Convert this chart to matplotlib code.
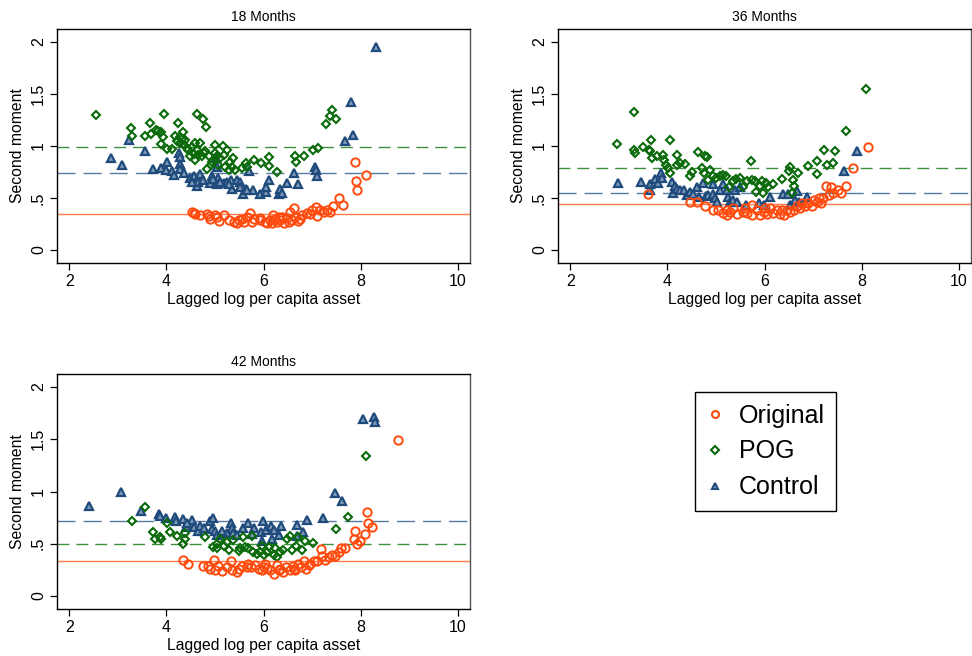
import matplotlib
matplotlib.use("Agg")
import matplotlib.pyplot as plt
from matplotlib.lines import Line2D

plt.rcParams['font.family'] = ['Liberation Sans', 'DejaVu Sans']
plt.rcParams['lines.scale_dashes'] = False

titles = ["18 Months", "36 Months", "42 Months"]
series_names = ["Original", "POG", "Control"]
xticks = [2, 4, 6, 8, 10]
yticks = [0, 0.5, 1, 1.5, 2]
ytick_labels = ["0", ".5", "1", "1.5", "2"]
x_label = "Lagged log per capita asset"
y_label = "Second moment"

# ---------------- 18 Months ----------------
p18_orig_x = [4.52, 4.56, 4.59, 4.69, 4.83, 4.87, 4.90, 5.00, 5.09, 5.18, 5.28, 5.40, 5.49, 5.55, 5.59, 5.66,
              5.73, 5.76, 5.81, 5.92, 6.03, 6.08, 6.13, 6.20, 6.24, 6.27, 6.34, 6.38, 6.43, 6.48, 6.55, 6.58,
              6.63, 6.65, 6.70, 6.76, 6.89, 6.96, 7.09, 7.10, 7.17, 7.24, 7.36, 7.43, 7.55, 7.64, 7.89, 7.90,
              7.92, 8.10, 5.93, 6.17, 6.31, 6.52, 6.79, 6.99, 7.31, 5.04, 5.45]
p18_orig_y = [0.37, 0.36, 0.35, 0.34, 0.35, 0.33, 0.30, 0.34, 0.28, 0.34, 0.29, 0.27, 0.29, 0.30, 0.27, 0.32,
              0.36, 0.27, 0.30, 0.29, 0.27, 0.26, 0.29, 0.34, 0.30, 0.27, 0.29, 0.32, 0.26, 0.31, 0.37, 0.29,
              0.40, 0.32, 0.28, 0.30, 0.36, 0.35, 0.41, 0.33, 0.38, 0.37, 0.37, 0.42, 0.50, 0.43, 0.85, 0.66,
              0.58, 0.72, 0.31, 0.26, 0.32, 0.27, 0.34, 0.38, 0.38, 0.32, 0.26]
p18_pog_x = [2.55, 3.27, 3.30, 3.57, 3.66, 3.68, 3.79, 3.82, 3.90, 3.95, 3.94, 3.90, 4.01, 4.11, 4.18, 4.25,
             4.21, 4.28, 4.35, 4.32, 4.36, 4.42, 4.49, 4.52, 4.59, 4.63, 4.64, 4.69, 4.75, 4.81, 4.73, 4.59,
             4.78, 4.83, 4.94, 5.00, 5.04, 5.07, 5.16, 5.18, 5.20, 5.24, 5.31, 5.38, 5.36, 5.41, 5.55, 5.64,
             5.67, 5.81, 5.95, 6.12, 6.12, 6.27, 6.65, 6.67, 6.84, 7.02, 7.12, 7.29, 7.36, 7.42, 7.50,
             4.28, 4.38, 4.45, 4.56, 4.66, 4.80, 4.87, 4.92, 5.00, 5.11, 5.30]
p18_pog_y = [1.30, 1.17, 1.10, 1.10, 1.22, 1.12, 1.15, 1.14, 1.13, 1.31, 1.09, 1.02, 0.97, 0.97, 1.10, 1.22,
             1.05, 1.03, 1.13, 1.07, 1.01, 0.98, 0.90, 0.99, 1.03, 1.31, 0.96, 1.03, 1.26, 1.18, 0.90, 0.87,
             0.93, 0.78, 0.85, 1.01, 0.90, 0.82, 1.00, 0.91, 0.80, 0.96, 0.85, 0.88, 0.80, 0.77, 0.79, 0.84,
             0.80, 0.87, 0.84, 0.89, 0.81, 0.75, 0.90, 0.85, 0.90, 0.96, 0.98, 1.21, 1.29, 1.35, 1.26,
             1.09, 1.06, 0.96, 0.92, 0.91, 0.95, 0.90, 0.82, 0.93, 0.88, 0.77]
p18_ctrl_x = [2.87, 3.08, 3.24, 3.56, 3.73, 3.89, 4.01, 4.00, 4.11, 4.15, 4.27, 4.28, 4.28, 4.28, 4.36, 4.49,
              4.56, 4.63, 4.66, 4.69, 4.90, 4.93, 5.02, 5.04, 5.07, 5.05, 5.18, 5.24, 5.33, 5.35, 5.45, 5.52,
              5.58, 5.64, 5.71, 5.79, 5.92, 6.06, 6.06, 6.12, 6.31, 6.34, 6.38, 6.49, 6.62, 6.72, 7.07, 7.09,
              7.11, 7.68, 7.81, 7.84, 8.32, 4.52, 4.76, 4.97, 5.11, 5.28, 5.52, 5.66]
p18_ctrl_y = [0.88, 0.82, 1.06, 0.95, 0.78, 0.79, 0.85, 0.77, 0.76, 0.72, 0.93, 0.89, 0.83, 0.78, 0.74, 0.69,
              0.71, 0.62, 0.65, 0.73, 0.64, 0.71, 0.88, 0.80, 0.69, 0.63, 0.64, 0.65, 0.67, 0.59, 0.67, 0.65,
              0.54, 0.59, 0.76, 0.58, 0.54, 0.56, 0.61, 0.67, 0.54, 0.59, 0.55, 0.64, 0.74, 0.63, 0.80, 0.77,
              0.71, 1.05, 1.42, 1.11, 1.95, 0.65, 0.67, 0.68, 0.65, 0.63, 0.61, 0.58]
p18_means = [0.343, 0.99, 0.743]

# ---------------- 36 Months ----------------
p36_orig_x = [3.61, 4.46, 4.62, 4.77, 4.93, 5.05, 5.15, 5.22, 5.29, 5.36, 5.55, 5.60, 5.74, 5.74, 5.84, 5.90,
              5.98, 6.05, 6.12, 6.18, 6.25, 6.32, 6.40, 6.46, 6.53, 6.60, 6.66, 6.73, 6.84, 6.90, 6.97, 7.01,
              7.08, 7.13, 7.16, 7.21, 7.27, 7.32, 7.37, 7.42, 7.52, 7.58, 7.67, 7.83, 8.14,
              5.22, 5.43, 5.63, 6.01, 6.35, 6.77]
p36_orig_y = [0.54, 0.46, 0.46, 0.42, 0.38, 0.38, 0.36, 0.38, 0.37, 0.40, 0.37, 0.40, 0.43, 0.34, 0.38, 0.34,
              0.37, 0.35, 0.40, 0.36, 0.38, 0.35, 0.34, 0.38, 0.37, 0.38, 0.42, 0.40, 0.42, 0.45, 0.42, 0.48,
              0.46, 0.50, 0.45, 0.50, 0.62, 0.53, 0.61, 0.55, 0.58, 0.55, 0.62, 0.79, 0.99,
              0.34, 0.35, 0.36, 0.40, 0.38, 0.45]
p36_pog_x = [2.97, 3.31, 3.31, 3.33, 3.50, 3.63, 3.67, 3.65, 3.69, 3.78, 3.91, 3.93, 3.97, 4.02, 4.05, 4.05,
             4.20, 4.19, 4.26, 4.36, 4.46, 4.50, 4.64, 4.71, 4.77, 4.81, 4.76, 4.84, 4.88, 4.93, 5.01, 5.08,
             5.15, 5.21, 5.27, 5.36, 5.42, 5.49, 5.55, 5.63, 5.72, 5.74, 5.80, 5.82, 5.90, 5.94, 5.96, 6.03,
             6.08, 6.18, 6.35, 6.53, 6.51, 6.58, 6.60, 6.57, 6.68, 6.90, 7.09, 7.09, 7.23, 7.28, 7.41, 7.46,
             7.68, 8.09]
p36_pog_y = [1.02, 1.33, 0.96, 0.93, 0.99, 0.96, 1.06, 0.95, 0.88, 0.90, 0.91, 0.87, 0.82, 0.79, 1.06, 0.74,
             0.91, 0.82, 0.84, 0.83, 0.71, 0.75, 0.94, 0.79, 0.90, 0.89, 0.74, 0.67, 0.77, 0.71, 0.69, 0.71,
             0.72, 0.71, 0.61, 0.66, 0.68, 0.69, 0.61, 0.66, 0.86, 0.67, 0.66, 0.56, 0.62, 0.66, 0.55, 0.64,
             0.61, 0.63, 0.68, 0.80, 0.76, 0.67, 0.62, 0.55, 0.74, 0.81, 0.86, 0.73, 0.96, 0.82, 0.84, 0.95,
             1.14, 1.55]
p36_ctrl_x = [2.99, 3.45, 3.64, 3.65, 3.74, 3.81, 3.88, 3.90, 4.09, 4.12, 4.15, 4.19, 4.26, 4.34, 4.41, 4.46,
              4.53, 4.62, 4.66, 4.74, 4.79, 4.84, 4.93, 4.94, 4.98, 5.03, 5.08, 5.15, 5.22, 5.25, 5.30, 5.36,
              5.39, 5.43, 5.49, 5.62, 5.89, 5.99, 6.11, 6.38, 6.49, 6.53, 6.63, 6.66, 6.72, 6.88, 7.63, 7.90]
p36_ctrl_y = [0.64, 0.65, 0.63, 0.58, 0.68, 0.64, 0.74, 0.69, 0.65, 0.55, 0.62, 0.59, 0.58, 0.58, 0.53, 0.56,
              0.54, 0.61, 0.51, 0.64, 0.52, 0.53, 0.63, 0.54, 0.50, 0.46, 0.58, 0.63, 0.58, 0.51, 0.46, 0.48,
              0.58, 0.46, 0.61, 0.43, 0.45, 0.43, 0.51, 0.54, 0.54, 0.43, 0.48, 0.57, 0.46, 0.51, 0.76, 0.95]
p36_means = [0.442, 0.785, 0.551]

# ---------------- 42 Months ----------------
p42_orig_x = [4.34, 4.45, 4.75, 4.85, 4.90, 4.98, 5.00, 5.07, 5.14, 5.24, 5.33, 5.35, 5.45, 5.49, 5.55, 5.69,
              5.74, 5.83, 5.90, 5.97, 6.04, 6.07, 6.14, 6.21, 6.28, 6.31, 6.40, 6.47, 6.54, 6.61, 6.65, 6.70,
              6.77, 6.84, 6.88, 6.95, 7.03, 7.11, 7.18, 7.20, 7.27, 7.34, 7.41, 7.48, 7.55, 7.60, 7.68, 7.86,
              7.89, 7.92, 7.98, 8.08, 8.14, 8.16, 8.23, 8.77, 5.66, 6.00, 6.34, 6.62, 6.93]
p42_orig_y = [0.34, 0.31, 0.29, 0.29, 0.26, 0.34, 0.25, 0.29, 0.24, 0.28, 0.33, 0.25, 0.23, 0.26, 0.29, 0.31,
              0.28, 0.30, 0.26, 0.25, 0.31, 0.27, 0.25, 0.21, 0.30, 0.25, 0.23, 0.28, 0.25, 0.29, 0.25, 0.31,
              0.28, 0.33, 0.26, 0.31, 0.33, 0.33, 0.45, 0.38, 0.34, 0.37, 0.39, 0.38, 0.42, 0.46, 0.46, 0.55,
              0.62, 0.50, 0.53, 0.59, 0.80, 0.70, 0.66, 1.49, 0.28, 0.28, 0.26, 0.26, 0.30]
p42_pog_x = [3.30, 3.56, 3.72, 3.77, 3.87, 3.90, 4.01, 4.08, 4.21, 4.35, 4.38, 4.38, 4.80, 4.97, 5.04, 5.11,
             5.18, 5.24, 5.30, 5.38, 5.49, 5.57, 5.62, 5.69, 5.76, 5.79, 5.86, 5.93, 5.97, 6.00, 6.07, 6.12,
             6.21, 6.28, 6.34, 6.41, 6.48, 6.54, 6.58, 6.67, 6.70, 6.79, 6.86, 7.02, 7.50, 7.74, 8.11,
             5.04, 5.52, 6.24]
p42_pog_y = [0.72, 0.85, 0.61, 0.55, 0.56, 0.55, 0.70, 0.61, 0.57, 0.50, 0.60, 0.55, 0.56, 0.47, 0.46, 0.55,
             0.48, 0.52, 0.44, 0.54, 0.43, 0.56, 0.47, 0.46, 0.57, 0.42, 0.40, 0.42, 0.48, 0.39, 0.42, 0.47,
             0.39, 0.37, 0.42, 0.44, 0.55, 0.57, 0.44, 0.48, 0.56, 0.44, 0.53, 0.51, 0.64, 0.76, 1.34,
             0.50, 0.46, 0.46]
p42_ctrl_x = [2.41, 3.06, 3.47, 3.84, 3.87, 4.00, 4.18, 4.20, 4.34, 4.41, 4.52, 4.56, 4.66, 4.69, 4.89, 4.96,
              4.94, 5.00, 5.04, 5.24, 5.33, 5.35, 5.37, 5.57, 5.69, 5.81, 5.95, 5.97, 5.98, 6.06, 6.15, 6.17,
              6.32, 6.36, 6.69, 6.69, 6.81, 6.89, 7.22, 7.48, 7.62, 8.04, 8.27, 8.30,
              4.77, 5.14, 5.45, 5.76, 6.21, 4.42]
p42_ctrl_y = [0.86, 1.00, 0.81, 0.78, 0.77, 0.75, 0.76, 0.72, 0.74, 0.66, 0.73, 0.66, 0.62, 0.67, 0.72, 0.75,
              0.64, 0.62, 0.58, 0.60, 0.70, 0.65, 0.60, 0.65, 0.70, 0.65, 0.61, 0.53, 0.72, 0.63, 0.67, 0.55,
              0.58, 0.67, 0.68, 0.57, 0.61, 0.73, 0.75, 0.99, 0.91, 1.69, 1.71, 1.67,
              0.65, 0.62, 0.58, 0.59, 0.63, 0.70]
p42_means = [0.338, 0.50, 0.72]

panels = [
    (titles[0], (p18_orig_x, p18_orig_y), (p18_pog_x, p18_pog_y), (p18_ctrl_x, p18_ctrl_y), p18_means),
    (titles[1], (p36_orig_x, p36_orig_y), (p36_pog_x, p36_pog_y), (p36_ctrl_x, p36_ctrl_y), p36_means),
    (titles[2], (p42_orig_x, p42_orig_y), (p42_pog_x, p42_pog_y), (p42_ctrl_x, p42_ctrl_y), p42_means),
]

C_ORIG = '#FF4A0E'
C_ORIG_LINE = '#FF7A4A'
C_POG = '#0A6A0A'
C_POG_LINE = '#3F8F3F'
C_CTRL = '#1E4B7C'
C_CTRL_FILL = '#7f9ab8'
C_CTRL_LINE = '#5879A0'

fig = plt.figure(figsize=(9.72, 6.56), dpi=100)
W, H = 972.0, 656.0
rects = [(57, 29, 470, 263), (558, 29, 971, 263), (57, 374, 470, 609)]

for (title, orig, pog, ctrl, means), (l, t, r, b) in zip(panels, rects):
    ax = fig.add_axes([l / W, 1 - b / H, (r - l) / W, (b - t) / H])
    ax.axhline(means[0], color=C_ORIG_LINE, lw=1.0, zorder=1)
    ax.axhline(means[1], color=C_POG_LINE, lw=1.0, dashes=(8.6, 5.0), zorder=1)
    ax.axhline(means[2], color=C_CTRL_LINE, lw=1.0, dashes=(13.0, 5.8), zorder=1)
    ax.plot(ctrl[0], ctrl[1], ls='none', marker='^', ms=5.2, mfc=C_CTRL_FILL,
            mec=C_CTRL, mew=1.6, zorder=2)
    ax.plot(pog[0], pog[1], ls='none', marker='D', ms=4.0, mfc='none',
            mec=C_POG, mew=1.5, zorder=3)
    ax.plot(orig[0], orig[1], ls='none', marker='o', ms=6.0, mfc='none',
            mec=C_ORIG, mew=1.4, zorder=4)
    ax.set_xlim(1.75, 10.25)
    ax.set_ylim(-0.125, 2.125)
    ax.set_xticks(xticks)
    ax.set_yticks(yticks)
    ax.set_yticklabels(ytick_labels, rotation=90, va='center')
    ax.tick_params(direction='out', length=5, width=0.9, labelsize=11.5, pad=3, colors='black')
    for s in ax.spines.values():
        s.set_linewidth(1.0)
        s.set_color('black')
    ax.spines['right'].set_color('#555555')
    ax.set_title(title, fontsize=10, pad=6)
    ax.set_xlabel(x_label, fontsize=11.3, labelpad=2)
    ax.set_ylabel(y_label, fontsize=11.3, labelpad=4)

handles = [
    Line2D([], [], ls='none', marker='o', ms=5, mfc='none', mec=C_ORIG, mew=1.5),
    Line2D([], [], ls='none', marker='D', ms=4, mfc='none', mec=C_POG, mew=1.5),
    Line2D([], [], ls='none', marker='^', ms=5, mfc=C_CTRL_FILL, mec=C_CTRL, mew=1.5),
]
leg = fig.legend(handles, series_names, loc='center',
                 bbox_to_anchor=(765.5 / W, 1 - 451.5 / H), fontsize=18,
                 frameon=True, fancybox=False, edgecolor='black', framealpha=1,
                 handlelength=0.7, handletextpad=0.6, labelspacing=0.48, borderpad=0.45,
                 borderaxespad=0)
leg.get_frame().set_linewidth(1.0)

fig.savefig('out.png', dpi=100)
